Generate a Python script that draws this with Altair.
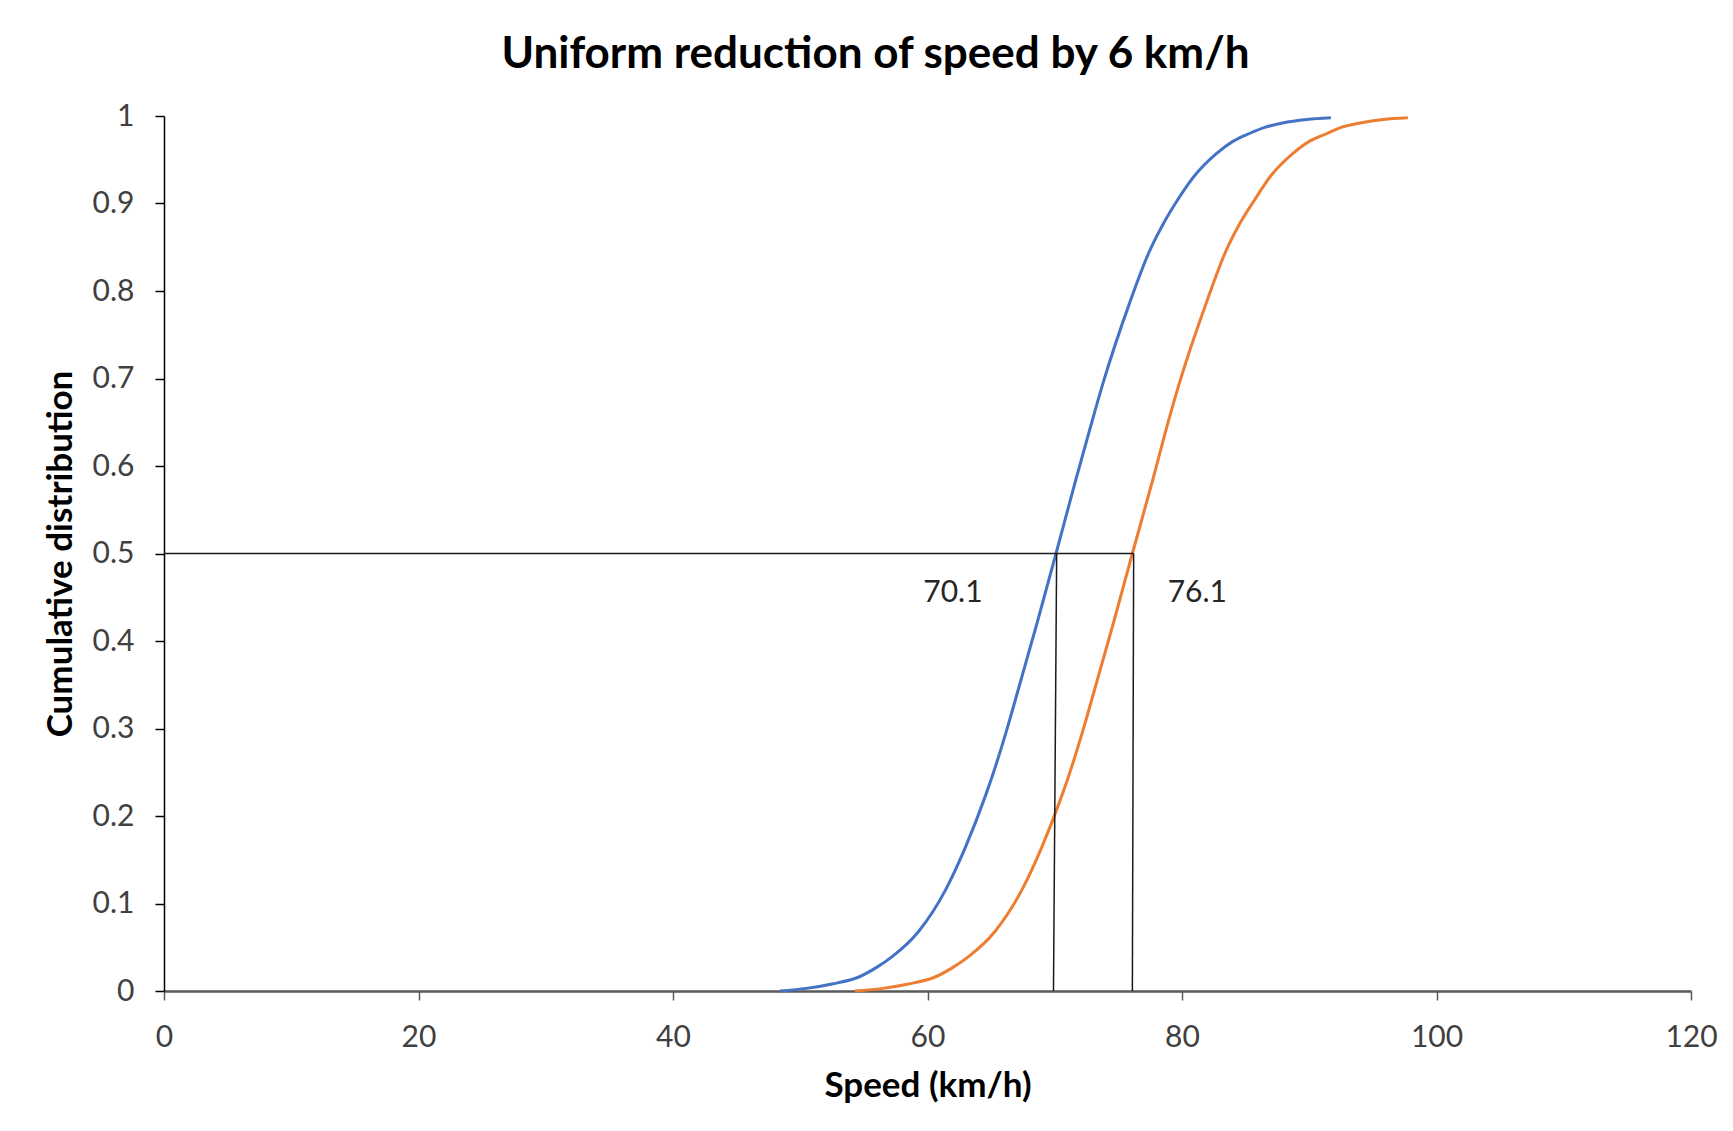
import altair as alt
import pandas as pd

# Values
blue_speed = [48.4, 50.5, 52.5, 54.6, 56.0, 57.2, 59.3, 61.4, 63.0, 64.6, 65.1, 66.2, 67.2, 68.6, 70.1,
              71.65, 72.7, 73.8, 75.85, 77.4, 78.5, 79.65, 81.0, 82.7, 84.0, 85.3, 86.5, 87.9, 89.8, 91.7]
blue_cdf   = [0.000, 0.003, 0.008, 0.016, 0.027, 0.039, 0.068, 0.115, 0.165, 0.225, 0.246, 0.297, 0.348, 0.420, 0.500,
              0.584, 0.639, 0.695, 0.785, 0.844, 0.876, 0.904, 0.932, 0.957, 0.971, 0.980, 0.987, 0.992, 0.996, 0.998]

orange_speed = [54.3, 56.5, 58.5, 60.6, 62.0, 63.2, 65.3, 67.4, 69.0, 70.6, 71.1, 72.2, 73.2, 74.6, 76.1,
                77.7, 78.7, 79.8, 81.9, 83.4, 84.5, 85.7, 87.0, 88.7, 90.0, 91.4, 92.5, 94.0, 95.8, 97.75]
orange_cdf   = [0.000, 0.003, 0.008, 0.016, 0.027, 0.039, 0.068, 0.115, 0.165, 0.225, 0.246, 0.297, 0.348, 0.420, 0.500,
                0.584, 0.639, 0.695, 0.786, 0.844, 0.876, 0.904, 0.932, 0.957, 0.971, 0.980, 0.987, 0.992, 0.996, 0.998]

# Guide lines at the median
guide_x  = [0.0, 70.15, 76.2]
guide_x2 = [76.2, 69.9, 76.1]
guide_y  = [0.5, 0.5, 0.5]
guide_y2 = [0.5, 0.0, 0.0]

# Median annotations
label_text = ["70.1", "76.1"]
label_x = [62.0, 81.2]
label_y = [0.455, 0.455]

x_ticks = [0, 20, 40, 60, 80, 100, 120]
y_ticks = [0, 0.1, 0.2, 0.3, 0.4, 0.5, 0.6, 0.7, 0.8, 0.9, 1.0]

FONT = "Lato"
BLUE = "#4472C4"
ORANGE = "#ED7D31"

curves = pd.concat([
    pd.DataFrame({"speed": blue_speed, "cdf": blue_cdf, "series": "Reduced"}),
    pd.DataFrame({"speed": orange_speed, "cdf": orange_cdf, "series": "Original"}),
])
guides = pd.DataFrame({"x": guide_x, "x2": guide_x2, "y": guide_y, "y2": guide_y2})
labels = pd.DataFrame({"text": label_text, "x": label_x, "y": label_y})

xscale = alt.Scale(domain=[0, 120], nice=False, zero=False)
yscale = alt.Scale(domain=[0, 1], nice=False)

xaxis = alt.Axis(values=x_ticks, format="d", title="Speed (km/h)", grid=False, labelFlush=False,
                 domainColor="#595959", domainWidth=2.5, tickColor="#595959", tickWidth=1.5,
                 tickSize=9, labelPadding=22, labelFontSize=30, labelFont=FONT,
                 labelColor="#404040", titleFont=FONT, titleFontSize=35, titleFontWeight="bold",
                 titleColor="#000000", titlePadding=16)
yaxis = alt.Axis(values=y_ticks, format=".1~f", title="Cumulative distribution", grid=False, labelFlush=False,
                 domainColor="#000000", domainWidth=1.5, tickColor="#000000", tickWidth=1.5,
                 tickSize=9, labelPadding=21, labelFontSize=30, labelFont=FONT,
                 labelColor="#404040", titleFont=FONT, titleFontSize=35, titleFontWeight="bold",
                 titleColor="#000000", titlePadding=14)

lines = alt.Chart(curves).mark_line(strokeWidth=3, interpolate="monotone").encode(
    x=alt.X("speed:Q", scale=xscale, axis=xaxis),
    y=alt.Y("cdf:Q", scale=yscale, axis=yaxis),
    color=alt.Color("series:N", scale=alt.Scale(domain=["Reduced", "Original"], range=[BLUE, ORANGE]), legend=None),
    detail="series:N",
)

rules = alt.Chart(guides).mark_rule(color="#1a1a1a", strokeWidth=1.5).encode(
    x="x:Q", x2="x2:Q", y="y:Q", y2="y2:Q"
)

texts = alt.Chart(labels).mark_text(font=FONT, fontSize=30, color="#262626", align="center", baseline="middle").encode(
    x="x:Q", y="y:Q", text="text:N"
)

chart = alt.layer(lines, rules, texts).properties(
    width=1527,
    height=875,
    background="white",
    title=alt.TitleParams("Uniform reduction of speed by 6 km/h", font=FONT, fontSize=44,
                          fontWeight="bold", color="#000000", anchor="middle", dx=-52, offset=24),
    autosize=alt.AutoSizeParams(type="none"),
    padding={"left": 156, "top": 108, "right": 30, "bottom": 120},
).configure_view(stroke=None)

chart.save("out.html", embed_options={"renderer": "svg", "actions": False})
